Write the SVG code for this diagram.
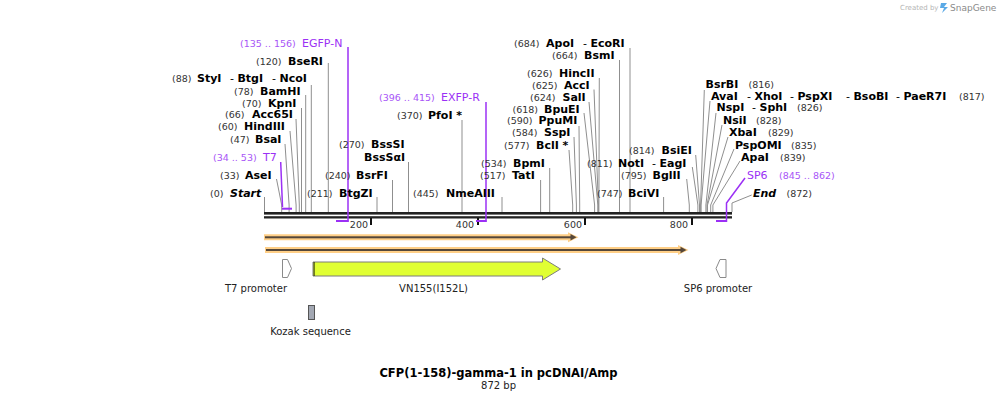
<svg xmlns="http://www.w3.org/2000/svg" width="997" height="401" viewBox="0 0 997 401">
<style>
.n{font-family:"DejaVu Sans",Verdana,sans-serif;font-size:9.5px;fill:#333}
.b{font-family:"DejaVu Sans",Verdana,sans-serif;font-size:11px;font-weight:bold;fill:#000}
.d{font-weight:normal}
.bi{font-style:italic}
.p{font-family:"DejaVu Sans",Verdana,sans-serif;font-size:11px;fill:#9b30f5}
.pn{font-family:"DejaVu Sans",Verdana,sans-serif;font-size:9.5px;fill:#a855f7}
.f{font-family:"DejaVu Sans",Verdana,sans-serif;font-size:10px;fill:#222}
.ld{fill:none;stroke:#8f8f8f;stroke-width:1}
.pl{fill:none;stroke:#9b30f5;stroke-width:1.5}
.pb{fill:#9b30f5}
.bar{fill:#222}
.tk{fill:#111}
.halo{fill:#ffcf87}
.dk{fill:#55473a}
.dkl{stroke:#55473a;stroke-width:2}
</style>

<g id="logo">
<text x="900" y="10" style="font-family:'DejaVu Sans',sans-serif;font-size:7px;fill:#b5b5b5">Created by</text>
<path d="M941 3 h6 l-3 4 h4 l-6 6 l2 -5 h-4 z" fill="#5aa9e6"/>
<text x="950" y="11" style="font-family:'DejaVu Sans',sans-serif;font-size:9px;fill:#8a8a8a">SnapGene</text>
</g>

<g id="connectors">
<path class="ld" d="M264.5 197 V212"/>
<path class="ld" d="M276.5 179 L281.7 205 V212"/>
<path class="ld" d="M285 144 L289.1 205 V212"/>
<path class="ld" d="M290 131 L296.1 205 V212"/>
<path class="ld" d="M296 119 L299.3 205 V212"/>
<path class="ld" d="M301.5 108 V212"/>
<path class="ld" d="M305.7 95 V212"/>
<path class="ld" d="M311.3 85 V212"/>
<path class="ld" d="M328.3 63 V212"/>
<path class="ld" d="M377 197 V212"/>
<path class="ld" d="M392.5 180 V212"/>
<path class="ld" d="M408.5 162 V212"/>
<path class="ld" d="M462 120 V212"/>
<path class="ld" d="M502 197 V212"/>
<path class="ld" d="M540.6 180 V212"/>
<path class="ld" d="M549.7 168 V212"/>
<path class="ld" d="M569 150 L572.7 205 V212"/>
<path class="ld" d="M574 137 L576.4 205 V212"/>
<path class="ld" d="M579 126 L579.7 205 V212"/>
<path class="ld" d="M584 113 L594.6 205 V212"/>
<path class="ld" d="M589 102 L597.8 205 V212"/>
<path class="ld" d="M594 89.5 L598.4 205 V212"/>
<path class="ld" d="M599.3 78 L598.9 205 V212"/>
<path class="ld" d="M619.5 60 V212"/>
<path class="ld" d="M630 48 V212"/>
<path class="ld" d="M663.6 197 V212"/>
<path class="ld" d="M686.7 179 L689.3 205 V212"/>
<path class="ld" d="M692.3 167 L697.9 205 V212"/>
<path class="ld" d="M695.7 155 L699.5 205 V212"/>
<path class="ld" d="M704.3 90 L700.6 205 V212"/>
<path class="ld" d="M710 101 L701.1 205 V212"/>
<path class="ld" d="M716 113 L705.9 205 V212"/>
<path class="ld" d="M722 125 L707 205 V212"/>
<path class="ld" d="M728 137 L707.5 205 V212"/>
<path class="ld" d="M734 149 L710.7 205 V212"/>
<path class="ld" d="M740 161 L712.9 205 V212"/>
<path class="ld" d="M751.7 195 L732 203 V212"/>
</g>

<g id="backbone">
<rect class="bar" x="264" y="212" width="468" height="2.6"/>
<rect class="bar" x="264" y="216.2" width="468" height="2.3"/>
<rect class="tk" x="370" y="218" width="2" height="7"/>
<rect class="tk" x="477" y="218" width="2" height="7"/>
<rect class="tk" x="584" y="218" width="2" height="7"/>
<rect class="tk" x="691" y="218" width="2" height="7"/>
<text class="n" x="368" y="228" text-anchor="end">200</text>
<text class="n" x="474" y="228" text-anchor="end">400</text>
<text class="n" x="582" y="228" text-anchor="end">600</text>
<text class="n" x="688" y="228" text-anchor="end">800</text>
</g>

<g id="primer-T7">
<path class="pl" d="M280.7 162 L282.5 207"/>
<rect class="pb" x="282" y="207.7" width="10" height="2"/>
<text class="pn" x="213" y="161">(34 .. 53)</text>
<text class="p" x="263" y="161">T7</text>
</g>
<g id="primer-EGFP-N">
<path class="pl" d="M348 47 V222"/>
<rect class="pb" x="336" y="220" width="12.5" height="2"/>
<text class="pn" x="240" y="46.5">(135 .. 156)</text>
<text class="p" x="302" y="46.5">EGFP-N</text>
</g>
<g id="primer-EXFP-R">
<path class="pl" d="M486 102 V222"/>
<rect class="pb" x="476" y="220" width="10.5" height="2"/>
<text class="pn" x="379" y="101">(396 .. 415)</text>
<text class="p" x="441" y="101">EXFP-R</text>
</g>
<g id="primer-SP6">
<path class="pl" d="M745 178 L726.5 203 V222"/>
<rect class="pb" x="716" y="220" width="11" height="2"/>
<text class="p" x="747" y="178.5">SP6</text>
<text class="pn" x="779" y="178.5">(845 .. 862)</text>
</g>

<g id="site-BseRI"><text class="n" x="256" y="65">(120)</text><text class="b" x="288" y="65">BseRI</text></g>
<g id="site-StyI"><text class="n" x="172" y="82">(88)</text><text class="b" x="197" y="82">StyI</text><text class="b" x="230" y="82"><tspan class="d">- </tspan>BtgI</text><text class="b" x="272" y="82"><tspan class="d">- </tspan>NcoI</text></g>
<g id="site-BamHI"><text class="n" x="234" y="95">(78)</text><text class="b" x="260" y="95">BamHI</text></g>
<g id="site-KpnI"><text class="n" x="242" y="106.5">(70)</text><text class="b" x="268" y="106.5">KpnI</text></g>
<g id="site-Acc65I"><text class="n" x="225" y="118">(66)</text><text class="b" x="252" y="118">Acc65I</text></g>
<g id="site-HindIII"><text class="n" x="218" y="130">(60)</text><text class="b" x="244" y="130">HindIII</text></g>
<g id="site-BsaI"><text class="n" x="230" y="142.5">(47)</text><text class="b" x="255" y="142.5">BsaI</text></g>
<g id="site-AseI"><text class="n" x="220" y="178.5">(33)</text><text class="b" x="245" y="178.5">AseI</text></g>
<g id="site-Start"><text class="n" x="210" y="196.5">(0)</text><text class="b bi" x="230" y="196.5">Start</text></g>

<g id="site-BssSI"><text class="n" x="339" y="147.5">(270)</text><text class="b" x="371" y="147.5">BssSI</text><text class="b" x="364" y="161">BssSαI</text></g>
<g id="site-BsrFI"><text class="n" x="325" y="178.5">(240)</text><text class="b" x="356" y="178.5">BsrFI</text></g>
<g id="site-BtgZI"><text class="n" x="307" y="196.5">(211)</text><text class="b" x="339" y="196.5">BtgZI</text></g>
<g id="site-PfoI"><text class="n" x="397" y="118.5">(370)</text><text class="b" x="428" y="118.5">PfoI *</text></g>
<g id="site-NmeAIII"><text class="n" x="413" y="196.5">(445)</text><text class="b" x="446" y="196.5">NmeAIII</text></g>
<g id="site-TatI"><text class="n" x="480" y="179">(517)</text><text class="b" x="512" y="179">TatI</text></g>
<g id="site-BpmI"><text class="n" x="481" y="166.5">(534)</text><text class="b" x="513" y="166.5">BpmI</text></g>
<g id="site-BclI"><text class="n" x="504" y="148.5">(577)</text><text class="b" x="536" y="148.5">BclI *</text></g>
<g id="site-SspI"><text class="n" x="512" y="136">(584)</text><text class="b" x="544" y="136">SspI</text></g>
<g id="site-PpuMI"><text class="n" x="507" y="124">(590)</text><text class="b" x="538.5" y="124">PpuMI</text></g>
<g id="site-BpuEI"><text class="n" x="512.5" y="112.7">(618)</text><text class="b" x="544" y="112.7">BpuEI</text></g>
<g id="site-SalI"><text class="n" x="530" y="100.7">(624)</text><text class="b" x="562.5" y="100.7">SalI</text></g>
<g id="site-AccI"><text class="n" x="532" y="88.5">(625)</text><text class="b" x="564" y="88.5">AccI</text></g>
<g id="site-HincII"><text class="n" x="527" y="76.5">(626)</text><text class="b" x="559" y="76.5">HincII</text></g>
<g id="site-BsmI"><text class="n" x="552" y="58.5">(664)</text><text class="b" x="584" y="58.5">BsmI</text></g>
<g id="site-ApoI"><text class="n" x="514" y="46.7">(684)</text><text class="b" x="546" y="46.7">ApoI</text><text class="b" x="583" y="46.7"><tspan class="d">- </tspan>EcoRI</text></g>
<g id="site-BciVI"><text class="n" x="597" y="196.5">(747)</text><text class="b" x="628" y="196.5">BciVI</text></g>
<g id="site-BglII"><text class="n" x="621" y="179">(795)</text><text class="b" x="652.5" y="179">BglII</text></g>
<g id="site-NotI"><text class="n" x="587" y="166.5">(811)</text><text class="b" x="618" y="166.5">NotI</text><text class="b" x="652" y="166.5"><tspan class="d">- </tspan>EagI</text></g>
<g id="site-BsiEI"><text class="n" x="629" y="154">(814)</text><text class="b" x="661.5" y="154">BsiEI</text></g>

<g id="site-BsrBI"><text class="b" x="705.5" y="88">BsrBI</text><text class="n" x="748.5" y="88">(816)</text></g>
<g id="site-AvaI"><text class="b" x="711" y="99.5">AvaI</text><text class="b" x="747" y="99.5"><tspan class="d">- </tspan>XhoI</text><text class="b" x="790" y="99.5"><tspan class="d">- </tspan>PspXI</text><text class="b" x="846" y="99.5"><tspan class="d">- </tspan>BsoBI</text><text class="b" x="896" y="99.5"><tspan class="d">- </tspan>PaeR7I</text><text class="n" x="959" y="99.5">(817)</text></g>
<g id="site-NspI"><text class="b" x="716.5" y="111">NspI</text><text class="b" x="752" y="111"><tspan class="d">- </tspan>SphI</text><text class="n" x="797" y="111">(826)</text></g>
<g id="site-NsiI"><text class="b" x="723" y="124">NsiI</text><text class="n" x="756" y="124">(828)</text></g>
<g id="site-XbaI"><text class="b" x="729" y="136">XbaI</text><text class="n" x="768" y="136">(829)</text></g>
<g id="site-PspOMI"><text class="b" x="735" y="148.5">PspOMI</text><text class="n" x="791" y="148.5">(835)</text></g>
<g id="site-ApaI"><text class="b" x="741" y="160.5">ApaI</text><text class="n" x="780" y="160.5">(839)</text></g>
<g id="site-End"><text class="b bi" x="753" y="196.5">End</text><text class="n" x="786.5" y="196.5">(872)</text></g>

<g id="feature-row1">
<path class="halo" d="M264 234.3 H568 V232.3 L578.5 237.3 L568 242.3 V240.3 H264 Z"/>
<rect class="dk" x="265" y="236.3" width="306" height="2"/>
<path class="dk" d="M570.5 234 L576.5 237.3 L570.5 240.6 Z"/>
</g>
<g id="feature-row2">
<path class="halo" d="M265 247 H678 V245 L688.5 250 L678 255 V253 H265 Z"/>
<rect class="dk" x="266" y="249" width="415" height="2"/>
<path class="dk" d="M680.5 246.7 L686.5 250 L680.5 253.3 Z"/>
</g>

<g id="feature-T7promoter">
<path d="M282.5 259.5 H287.5 L291.5 268.5 L287.5 277.5 H282.5 Z" fill="#fff" stroke="#8a8a8a" stroke-width="1"/>
<text class="f" x="256" y="292" text-anchor="middle">T7 promoter</text>
</g>
<g id="feature-VN155">
<path d="M313 262 H542.5 V258 L560.5 269 L542.5 280 V276 H313 Z" fill="#e0ff33" stroke="#7d7d7d" stroke-width="1"/>
<path d="M314.2 262.5 V275.5" stroke="#000" stroke-width="1.6" stroke-dasharray="1 1"/>
<text class="f" x="433.5" y="292" text-anchor="middle">VN155(I152L)</text>
</g>
<g id="feature-Kozak">
<rect x="308.5" y="305.5" width="6" height="14" fill="#a3a8b3" stroke="#555" stroke-width="1"/>
<text class="f" x="310.5" y="335" text-anchor="middle">Kozak sequence</text>
</g>
<g id="feature-SP6promoter">
<path d="M726 259.5 H720 L716 268.5 L720 277.5 H726 Z" fill="#fff" stroke="#8a8a8a" stroke-width="1"/>
<text class="f" x="718" y="292" text-anchor="middle">SP6 promoter</text>
</g>

<g id="title">
<text x="498.5" y="377" text-anchor="middle" style="font-family:'DejaVu Sans',Verdana,sans-serif;font-size:11.5px;font-weight:bold;fill:#000">CFP(1-158)-gamma-1 in pcDNAI/Amp</text>
<text x="498.5" y="389" text-anchor="middle" style="font-family:'DejaVu Sans',Verdana,sans-serif;font-size:10px;fill:#222">872 bp</text>
</g>
</svg>
